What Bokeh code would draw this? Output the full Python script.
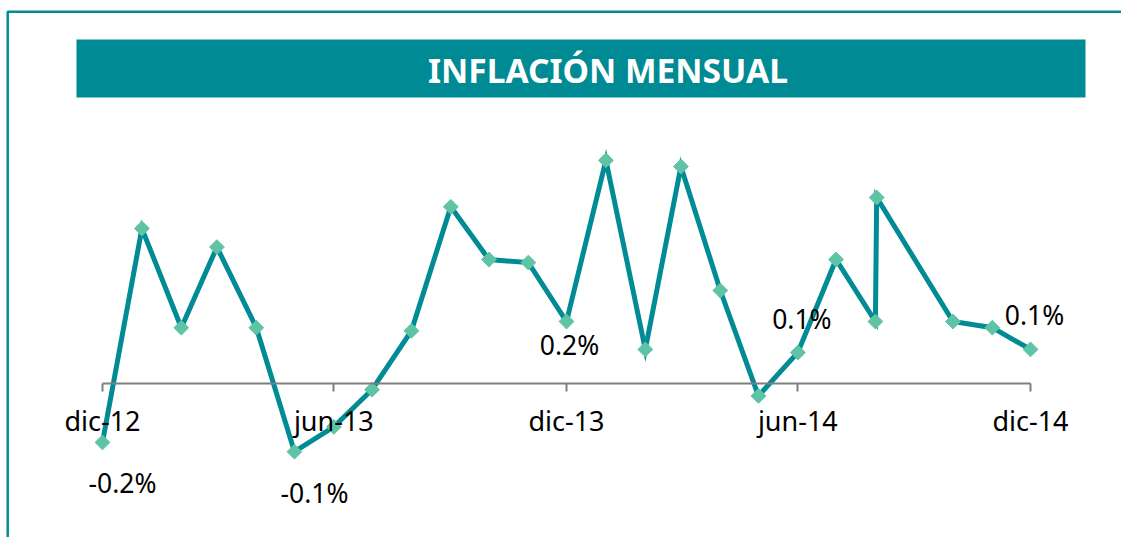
import datetime as dt
import math
from bokeh.plotting import figure
from bokeh.models import BoxAnnotation, Label, FixedTicker, Range1d, ColumnDataSource
from bokeh.embed import file_html
from bokeh.resources import INLINE

# ---------------- data ----------------
fechas = ["2012-12-01", "2013-01-01", "2013-02-01", "2013-03-01", "2013-04-01",
          "2013-05-01", "2013-06-01", "2013-07-01", "2013-08-01", "2013-09-01",
          "2013-10-01", "2013-11-01", "2013-12-01", "2014-01-01", "2014-02-01",
          "2014-03-01", "2014-04-01", "2014-05-01", "2014-06-01", "2014-07-01",
          "2014-08-01", "2014-08-02", "2014-10-01", "2014-11-01", "2014-12-01"]
inflacion = [-0.19, 0.50, 0.18, 0.44, 0.18, -0.22, -0.14, -0.02, 0.17, 0.57,
             0.40, 0.39, 0.20, 0.72, 0.11, 0.70, 0.30, -0.04, 0.10, 0.40,
             0.20, 0.60, 0.20, 0.18, 0.11]
tick_fechas = ["2012-12-01", "2013-06-01", "2013-12-01", "2014-06-01", "2014-12-01"]
tick_textos = ["dic-12", "jun-13", "dic-13", "jun-14", "dic-14"]
etiqueta_idx = [0, 5, 12, 18, 24]
etiqueta_txt = ["-0.2%", "-0.1%", "0.2%", "0.1%", "0.1%"]
titulo = "INFLACIÓN MENSUAL"

TEAL = "#008b95"
MINT = "#5fc4a6"
FONT = "Noto Sans"

def ms(s):
    d = dt.datetime.strptime(s, "%Y-%m-%d").replace(tzinfo=dt.timezone.utc)
    return d.timestamp() * 1000.0

xs = [ms(f) for f in fechas]
tick_ms = [ms(f) for f in tick_fechas]

W, H = 1121, 537
t0, t1 = tick_ms[0], tick_ms[-1]
sx = 928.0 / (t1 - t0)          # px per ms
x0 = t0 - 102.0 / sx
x1 = x0 + W / sx
sy = 310.0                      # px per percentage point
y1 = 383.0 / sy
y0 = y1 - H / sy

def px(v):   # horizontal canvas px -> data
    return x0 + v / sx
def py(v):   # vertical canvas px (from top) -> data
    return y1 - v / sy

p = figure(width=W, height=H, x_axis_type="datetime",
           x_range=Range1d(x0, x1), y_range=Range1d(y0, y1),
           output_backend="svg", toolbar_location=None, min_border=0,
           outline_line_color=None, background_fill_color="white",
           border_fill_color="white")
p.grid.visible = False
p.yaxis.visible = False

# frame (left & top edges)
p.add_layout(BoxAnnotation(left=px(7.2), right=px(W + 20), top=py(11.2), bottom=py(H + 20),
                           fill_color=None, fill_alpha=0, line_color=TEAL,
                           line_alpha=1.0, line_width=2.5))
# title banner
p.add_layout(BoxAnnotation(left=px(76), right=px(1085), top=py(39), bottom=py(97),
                           fill_color="#008a94", fill_alpha=1.0, line_color=None))
p.add_layout(Label(x=px(607.5), y=py(69), text=titulo, text_align="center",
                   text_baseline="middle", text_color="white", text_font=FONT,
                   text_font_style="bold", text_font_size="33.5px"))

# x axis at y = 0
ax = p.xaxis[0]
ax.fixed_location = 0
ax.bounds = (t0, t1)
ax.ticker = FixedTicker(ticks=tick_ms, minor_ticks=[])
ax.major_label_overrides = {t: s for t, s in zip(tick_ms, tick_textos)}
ax.axis_line_color = "#7f7f7f"
ax.axis_line_width = 2
ax.major_tick_line_color = "#7f7f7f"
ax.major_tick_line_width = 2
ax.major_tick_out = 8
ax.major_tick_in = 0
ax.minor_tick_line_color = None
ax.major_label_text_font = FONT
ax.major_label_text_font_size = "27px"
ax.major_label_text_color = "black"
ax.major_label_standoff = 10

src = ColumnDataSource(dict(x=xs, y=inflacion))
p.line("x", "y", source=src, line_color=TEAL, line_width=5, line_join="miter")
p.scatter("x", "y", source=src, marker="square", size=10.5, angle=math.pi / 4,
          fill_color=MINT, line_color=MINT)

for i, txt in zip(etiqueta_idx, etiqueta_txt):
    v = inflacion[i]
    if v < 0:
        xo, yo = 20, -41
    elif txt == "0.2%":
        xo, yo = 3, -23
    else:
        xo, yo = 4, 34
    p.add_layout(Label(x=xs[i], y=v, x_offset=xo, y_offset=yo, text=txt,
                       text_align="center", text_baseline="middle",
                       text_font=FONT, text_font_size="26.5px", text_color="black"))

open("out.html", "w").write(file_html(p, INLINE))
